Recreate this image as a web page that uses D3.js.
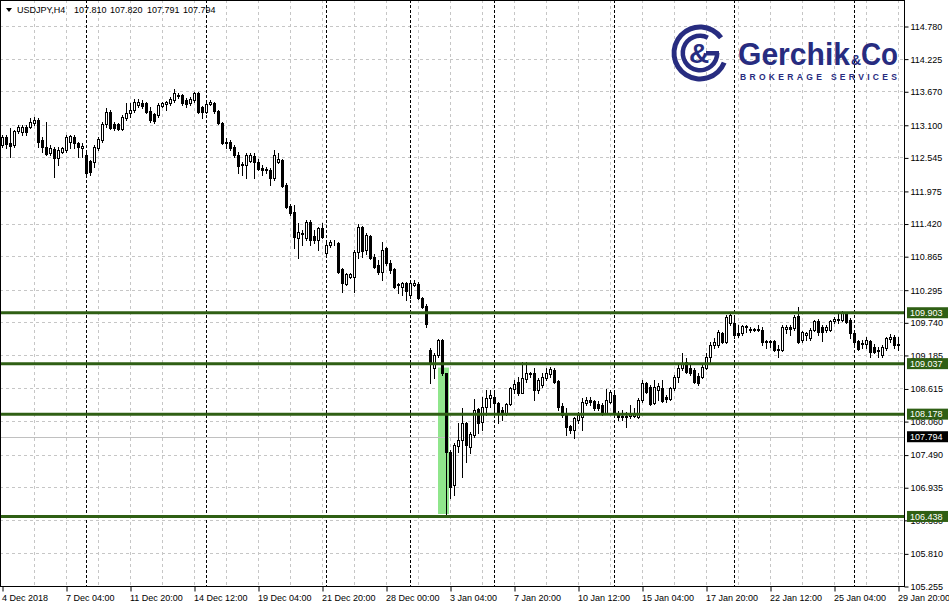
<!DOCTYPE html>
<html><head><meta charset="utf-8">
<script src="https://cdn.jsdelivr.net/npm/d3@7"></script>
<style>
body{margin:0;background:#fff}
svg{display:block}
text{font-family:"Liberation Sans",Arial,sans-serif}
</style>
</head><body>
<svg id="chart" width="949" height="610"></svg>
<script>
// ---------------- DATA ----------------
const symbolName = "USDJPY,H4";
const quoteValues = ["107.810", "107.820", "107.791", "107.794"];

const opens = [
112.76,112.89,112.79,112.76,112.99,112.98,113.06,113.06,113.13,113.18,
112.84,112.72,112.62,112.69,112.54,112.64,112.67,112.81,112.89,112.79,
112.70,112.59,112.48,112.47,112.70,112.84,113.11,113.32,113.11,113.11,
113.03,113.21,113.30,113.35,113.44,113.47,113.47,113.33,113.28,113.26,
113.42,113.45,113.47,113.52,113.61,113.61,113.52,113.47,113.52,113.64,
113.40,113.32,113.45,113.47,113.33,113.13,112.81,112.81,112.72,112.59,
112.43,112.41,112.48,112.57,112.47,112.36,112.35,112.33,112.19,112.47,
112.50,112.07,111.72,111.62,111.17,111.24,111.17,111.45,111.21,111.14,
111.34,110.92,111.06,111.10,111.09,110.65,110.39,110.51,110.51,110.94,
111.36,110.97,111.21,110.85,110.72,110.60,111.00,110.75,110.65,110.39,
110.34,110.41,110.20,110.37,110.39,110.15,110.02,109.27,108.96,109.18,
109.44,108.88,107.53,106.97,107.64,107.74,108.03,107.62,107.82,108.27,
108.05,108.30,108.45,108.47,108.37,108.25,108.20,108.35,108.61,108.72,
108.54,108.78,108.88,108.88,108.59,108.67,108.79,108.86,108.93,108.74,
108.32,108.17,107.98,107.91,108.08,108.13,108.37,108.42,108.40,108.35,
108.33,108.20,108.39,108.51,108.20,108.15,108.13,108.15,108.15,108.13,
108.42,108.71,108.64,108.37,108.59,108.62,108.47,108.44,108.62,108.81,
108.96,109.06,108.96,108.93,108.83,108.81,108.96,109.15,109.35,109.35,
109.56,109.40,109.73,109.73,109.56,109.56,109.66,109.63,109.62,109.61,
109.61,109.42,109.40,109.42,109.29,109.27,109.63,109.66,109.64,109.85,
109.44,109.52,109.47,109.61,109.76,109.66,109.61,109.61,109.76,109.80,
109.78,109.90,109.78,109.56,109.42,109.39,109.37,109.42,109.32,109.27,
109.18,109.30,109.45,109.49,109.37];

const highs = [
112.93,112.93,113.04,113.01,113.10,113.10,113.10,113.21,113.23,113.21,
112.89,113.15,112.76,112.72,112.72,112.72,112.93,112.93,112.93,112.81,
112.79,112.64,112.50,112.76,112.89,113.15,113.38,113.35,113.15,113.13,
113.27,113.47,113.47,113.54,113.54,113.52,113.49,113.40,113.30,113.47,
113.49,113.50,113.57,113.71,113.64,113.62,113.55,113.57,113.66,113.66,
113.42,113.52,113.52,113.49,113.35,113.15,112.87,112.84,112.76,112.64,
112.47,112.62,112.62,112.62,112.52,112.41,112.38,112.36,112.67,112.62,
112.52,112.11,111.75,111.73,111.43,111.31,111.48,111.48,111.31,111.36,
111.43,111.11,111.14,111.14,111.11,110.67,110.58,110.58,110.97,111.41,
111.38,111.26,111.23,110.90,110.80,111.11,111.02,110.80,110.67,110.41,
110.43,110.43,110.46,110.46,110.43,110.17,110.05,109.30,109.22,109.45,
109.45,108.88,107.57,107.69,108.03,108.28,108.05,107.88,108.44,108.28,
108.47,108.59,108.59,108.54,108.39,108.30,108.37,108.64,108.76,108.81,
109.06,109.06,108.90,108.96,108.79,108.88,108.96,108.98,108.96,108.76,
108.37,108.28,108.00,108.13,108.22,108.45,108.47,108.47,108.42,108.40,
108.37,108.61,108.59,108.54,108.23,108.25,108.22,108.33,108.28,108.45,
108.76,108.73,108.67,108.76,108.71,108.76,108.51,108.64,108.84,109.01,
109.22,109.13,109.01,108.96,108.88,109.01,109.22,109.40,109.47,109.61,
109.57,109.87,109.90,109.87,109.69,109.69,109.69,109.66,109.64,109.69,
109.66,109.44,109.44,109.44,109.35,109.69,109.69,109.69,109.87,110.00,
109.59,109.57,109.64,109.78,109.80,109.69,109.69,109.78,109.83,109.88,
109.93,109.91,109.81,109.57,109.44,109.44,109.49,109.44,109.37,109.32,
109.35,109.49,109.54,109.52,109.49];

const lows = [
112.72,112.70,112.55,112.72,112.96,112.93,112.93,113.04,113.10,112.72,
112.64,112.59,112.59,112.21,112.41,112.62,112.64,112.70,112.70,112.55,
112.55,112.26,112.25,112.38,112.67,112.81,113.06,113.02,113.01,113.01,
113.01,113.18,113.23,113.32,113.40,113.38,113.30,113.15,113.13,113.23,
113.40,113.35,113.44,113.49,113.56,113.44,113.40,113.44,113.49,113.30,
113.21,113.30,113.44,113.30,113.11,112.77,112.70,112.67,112.55,112.28,
112.25,112.19,112.47,112.19,112.33,112.25,112.28,112.07,112.16,112.45,
112.04,111.68,111.57,111.00,110.83,111.05,111.14,111.05,111.09,110.97,
111.17,110.85,111.02,111.06,110.58,110.26,110.37,110.49,110.26,110.83,
110.85,110.90,110.82,110.66,110.56,110.46,110.72,110.58,110.32,110.24,
110.20,110.12,110.15,110.36,110.14,109.98,109.66,108.71,108.79,109.15,
108.84,106.45,106.75,106.80,107.53,107.11,107.36,107.52,107.79,107.86,
107.91,108.17,108.30,108.25,108.03,108.08,108.17,108.33,108.54,108.50,
108.54,108.72,108.81,108.42,108.54,108.64,108.76,108.81,108.71,108.25,
108.13,107.82,107.86,107.77,108.03,107.91,108.33,108.33,108.25,108.25,
108.17,108.18,108.37,108.17,108.08,108.08,107.96,108.11,108.13,108.11,
108.39,108.54,108.33,108.35,108.42,108.39,108.39,108.42,108.59,108.72,
108.93,108.88,108.84,108.71,108.67,108.79,108.95,109.06,109.30,109.32,
109.39,109.39,109.69,109.47,109.49,109.52,109.57,109.57,109.59,109.59,
109.35,109.30,109.32,109.25,109.15,109.25,109.56,109.52,109.61,109.39,
109.40,109.44,109.44,109.59,109.52,109.42,109.57,109.59,109.73,109.73,
109.76,109.73,109.47,109.35,109.27,109.30,109.30,109.15,109.22,109.15,
109.15,109.27,109.40,109.30,109.27];

const closes = [
112.89,112.77,112.74,112.99,113.06,113.06,112.98,113.15,113.18,112.81,
112.72,112.60,112.70,112.54,112.67,112.70,112.89,112.91,112.79,112.72,
112.74,112.28,112.30,112.72,112.86,113.11,113.32,113.04,113.04,113.03,
113.23,113.30,113.35,113.49,113.49,113.42,113.32,113.18,113.16,113.44,
113.47,113.49,113.54,113.64,113.59,113.47,113.45,113.54,113.64,113.32,
113.32,113.45,113.49,113.33,113.13,112.79,112.79,112.70,112.59,112.40,
112.41,112.59,112.59,112.47,112.35,112.33,112.33,112.19,112.59,112.52,
112.06,111.70,111.60,111.19,111.28,111.26,111.45,111.14,111.14,111.34,
111.19,111.06,111.11,111.11,110.60,110.41,110.56,110.56,110.94,111.36,
110.95,111.23,110.83,110.68,110.60,110.97,110.75,110.63,110.34,110.37,
110.41,110.27,110.41,110.41,110.15,110.00,109.71,109.05,109.18,109.44,
108.88,107.53,106.94,107.65,107.74,108.03,107.65,107.84,108.25,108.03,
108.30,108.45,108.50,108.37,108.20,108.22,108.35,108.62,108.69,108.54,
108.79,108.88,108.86,108.59,108.76,108.81,108.88,108.95,108.73,108.30,
108.17,107.96,107.91,108.11,108.17,108.39,108.42,108.39,108.28,108.28,
108.20,108.42,108.56,108.20,108.13,108.13,108.15,108.20,108.18,108.42,
108.71,108.56,108.35,108.64,108.66,108.40,108.44,108.62,108.81,108.96,
109.05,108.89,108.88,108.73,108.71,108.98,109.15,109.35,109.40,109.57,
109.40,109.83,109.87,109.52,109.52,109.68,109.68,109.61,109.61,109.63,
109.40,109.40,109.42,109.27,109.27,109.66,109.66,109.62,109.83,109.40,
109.57,109.56,109.61,109.76,109.57,109.57,109.66,109.76,109.80,109.78,
109.90,109.74,109.56,109.40,109.29,109.37,109.44,109.23,109.23,109.25,
109.32,109.47,109.49,109.35,109.35];

// time-axis labels, one every 16 bars starting at bar 0
const timeLabels = ["4 Dec 2018","7 Dec 04:00","11 Dec 20:00","14 Dec 12:00","19 Dec 04:00",
  "21 Dec 20:00","28 Dec 00:00","3 Jan 04:00","7 Jan 20:00","10 Jan 12:00","15 Jan 04:00",
  "17 Jan 20:00","22 Jan 12:00","25 Jan 04:00","29 Jan 20:00"];
const labelEvery = 16;
// week separators (bar index of Monday 00:00)
const weekStarts = [21, 51, 81, 102, 123, 153, 183, 213];
// price scale labels
const priceTicks = [114.780,114.225,113.670,113.100,112.545,111.975,111.420,110.865,110.295,
  109.740,109.185,108.615,108.060,107.490,106.935,106.380,105.810,105.255];
// horizontal support / resistance levels
const levels = [109.903, 109.037, 108.178, 106.438];
const currentPrice = 107.794;
// highlighted zone (bars, prices)
const zoneBars = [109, 111.75];
const zonePrices = [108.97, 106.48];

// ---------------- LAYOUT ----------------
const svg = d3.select("#chart");
const plotL = 0, plotR = 904, plotT = 0, plotB = 586;
const x = d3.scaleLinear().domain([0, opens.length - 1]).range([2, 898]);
const y = d3.scaleLinear().domain([105.255, 114.780]).range([586, 26]);
const gridGray = "#c6c6c6";
const green = "#2f5f14";
const navy = "#272c80";

svg.append("rect").attr("width", 949).attr("height", 610).attr("fill", "#fff");

svg.append("clipPath").attr("id", "plotclip").append("rect")
  .attr("x", plotL + 1).attr("y", plotT + 1).attr("width", plotR - plotL - 1).attr("height", plotB - plotT - 1);
const plot = svg.append("g").attr("clip-path", "url(#plotclip)");

// horizontal grid
plot.selectAll("line.hg").data(priceTicks).join("line")
  .attr("x1", 0).attr("x2", plotR)
  .attr("y1", d => Math.round(y(d)) + 0.5).attr("y2", d => Math.round(y(d)) + 0.5)
  .attr("stroke", gridGray).attr("stroke-dasharray", "3,3");
// vertical grid every 8 bars
const vIdx = d3.range(8, opens.length, 8);
plot.selectAll("line.vg").data(vIdx).join("line")
  .attr("x1", d => Math.round(x(d)) + 0.5).attr("x2", d => Math.round(x(d)) + 0.5)
  .attr("y1", 0).attr("y2", plotB)
  .attr("stroke", gridGray).attr("stroke-dasharray", "3,3");
// week separators
plot.selectAll("line.sep").data(weekStarts).join("line")
  .attr("x1", d => Math.round(x(d)) + 0.5).attr("x2", d => Math.round(x(d)) + 0.5)
  .attr("y1", 0).attr("y2", plotB)
  .attr("stroke", "#000").attr("stroke-dasharray", "3,2");

// highlighted zone
plot.append("rect")
  .attr("x", x(zoneBars[0])).attr("width", x(zoneBars[1]) - x(zoneBars[0]))
  .attr("y", y(zonePrices[0])).attr("height", y(zonePrices[1]) - y(zonePrices[0]))
  .attr("fill", "#90e68c");

// current price line
plot.append("line").attr("x1", 0).attr("x2", plotR)
  .attr("y1", Math.round(y(currentPrice)) + 0.5).attr("y2", Math.round(y(currentPrice)) + 0.5)
  .attr("stroke", "#c0c0c0");

// candles
const bars = d3.range(opens.length).map(i => ({i, o: opens[i], h: highs[i], l: lows[i], c: closes[i]}));
const cg = plot.append("g");
cg.selectAll("line.wick").data(bars).join("line")
  .attr("x1", d => Math.round(x(d.i)) + 0.5).attr("x2", d => Math.round(x(d.i)) + 0.5)
  .attr("y1", d => Math.round(y(d.h))).attr("y2", d => Math.round(y(d.l)) + 1)
  .attr("stroke", "#000");
cg.selectAll("rect.body").data(bars).join("rect")
  .attr("x", d => Math.round(x(d.i)) - 0.5)
  .attr("y", d => Math.round(y(Math.max(d.o, d.c))) + 0.5)
  .attr("width", 2)
  .attr("height", d => Math.max(0, Math.round(y(Math.min(d.o, d.c))) - Math.round(y(Math.max(d.o, d.c)))))
  .attr("fill", d => d.c >= d.o ? "#fff" : "#000")
  .attr("stroke", "#000");

// level lines
plot.selectAll("line.lvl").data(levels).join("line")
  .attr("x1", 0).attr("x2", plotR)
  .attr("y1", d => y(d)).attr("y2", d => y(d))
  .attr("stroke", green).attr("stroke-width", 3);

// frame
svg.append("rect").attr("x", 0.5).attr("y", 0.5).attr("width", plotR).attr("height", plotB)
  .attr("fill", "none").attr("stroke", "#000");

// right price axis
const yAxis = d3.axisRight(y).tickValues(priceTicks).tickFormat(d3.format(".3f")).tickSize(4).tickPadding(2);
const ya = svg.append("g").attr("transform", `translate(${plotR + 0.5},0.5)`).call(yAxis);
ya.select(".domain").remove();
ya.selectAll("text").attr("font-size", 9).attr("font-family", "Liberation Sans, Arial, sans-serif").attr("fill", "#000");
ya.selectAll("line").attr("stroke", "#000");

// level tags
const tags = levels.map(v => ({v, fill: green})).concat([{v: currentPrice, fill: "#000"}]);
const tg = svg.append("g");
tg.selectAll("rect").data(tags).join("rect")
  .attr("x", 907).attr("y", d => y(d.v) - 5.5).attr("width", 41).attr("height", 11)
  .attr("fill", d => d.fill);
tg.selectAll("text").data(tags).join("text")
  .attr("x", 910).attr("y", d => y(d.v)).attr("dy", "0.34em")
  .attr("font-size", 9).attr("fill", "#fff").text(d => d.v.toFixed(3));

// bottom time axis
const tIdx = timeLabels.map((_, k) => k * labelEvery);
const xAxis = d3.axisBottom(x).tickValues(tIdx).tickFormat((d, k) => timeLabels[k]).tickSize(5).tickPadding(3);
const xa = svg.append("g").attr("transform", `translate(0.5,${plotB + 0.5})`).call(xAxis);
xa.select(".domain").remove();
xa.selectAll("line").attr("stroke", "#000");
xa.selectAll("text").attr("font-size", 9).attr("font-family", "Liberation Sans, Arial, sans-serif")
  .attr("text-anchor", "start").attr("fill", "#000").attr("dx", -1);

// header
svg.append("path").attr("d", "M6,8 L12,8 L9,12 Z").attr("fill", "#000");
svg.append("text").attr("x", 17).attr("y", 13).attr("font-size", 9).text(symbolName);
const qx = [74, 110, 147, 183];
svg.selectAll("text.q").data(quoteValues).join("text")
  .attr("x", (d, k) => qx[k]).attr("y", 13).attr("font-size", 9).text(d => d);

// logo
const logo = svg.append("g");
const cx0 = 700, cy0 = 53;
logo.append("path").attr("transform", `translate(${cx0},${cy0})`)
  .attr("d", d3.arc()({innerRadius: 23.5, outerRadius: 28.5, startAngle: Math.PI * 0.62, endAngle: Math.PI * 2.3}))
  .attr("fill", navy);
logo.append("path").attr("transform", `translate(${cx0},${cy0})`)
  .attr("d", d3.arc()({innerRadius: 15, outerRadius: 19.5, startAngle: Math.PI * 0.5, endAngle: Math.PI * 2.15}))
  .attr("fill", navy);
logo.append("rect").attr("x", cx0 + 6).attr("y", cy0 - 2).attr("width", 13).attr("height", 4.5).attr("fill", navy);
logo.append("text").attr("x", cx0 - 1).attr("y", cy0 + 10).attr("text-anchor", "middle")
  .attr("font-family", "Lato, 'Open Sans', sans-serif").attr("font-weight", 900).attr("font-size", 28)
  .attr("fill", navy).text("&");
logo.append("text").attr("x", 738).attr("y", 65).attr("font-family", "Lato, 'Open Sans', sans-serif")
  .attr("font-weight", 700).attr("font-size", 31).attr("fill", navy)
  .attr("textLength", 112).attr("lengthAdjust", "spacingAndGlyphs").text("Gerchik");
logo.append("text").attr("x", 851).attr("y", 65).attr("font-family", "Lato, 'Open Sans', sans-serif")
  .attr("font-weight", 700).attr("font-size", 14).attr("fill", navy).text("&");
logo.append("text").attr("x", 861).attr("y", 65).attr("font-family", "Lato, 'Open Sans', sans-serif")
  .attr("font-weight", 700).attr("font-size", 31).attr("fill", navy)
  .attr("textLength", 37).attr("lengthAdjust", "spacingAndGlyphs").text("Co");
logo.append("text").attr("x", 740).attr("y", 80).attr("font-family", "Lato, 'Open Sans', sans-serif")
  .attr("font-weight", 700).attr("font-size", 8.5).attr("fill", navy)
  .attr("textLength", 157).attr("lengthAdjust", "spacing").text("BROKERAGE SERVICES");
</script>
</body></html>
